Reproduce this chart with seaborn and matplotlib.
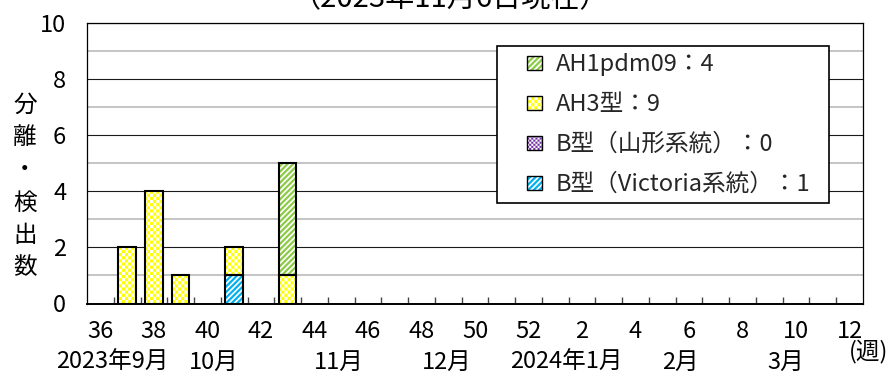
import warnings

import numpy as np
import matplotlib
matplotlib.use("Agg")
import matplotlib.pyplot as plt
import matplotlib.hatch as mhatch
import matplotlib.patches as mpatches
from matplotlib.path import Path
from matplotlib.ticker import MultipleLocator, FixedLocator
from matplotlib.legend_handler import HandlerPatch, HandlerTuple
import seaborn as sns

warnings.filterwarnings("ignore")

# ---------------------------------------------------------------- data
weeks = [36, 37, 38, 39, 40, 41, 42, 43, 44, 45, 46, 47, 48, 49, 50, 51, 52,
         1, 2, 3, 4, 5, 6, 7, 8, 9, 10, 11, 12]
week_labels = [str(w) for w in weeks]

ah1pdm09 = [0, 0, 0, 0, 0, 0, 0, 4, 0, 0, 0, 0, 0, 0, 0, 0, 0,
            0, 0, 0, 0, 0, 0, 0, 0, 0, 0, 0, 0]
ah3 = [0, 2, 4, 1, 0, 1, 0, 1, 0, 0, 0, 0, 0, 0, 0, 0, 0,
       0, 0, 0, 0, 0, 0, 0, 0, 0, 0, 0, 0]
b_yamagata = [0, 0, 0, 0, 0, 0, 0, 0, 0, 0, 0, 0, 0, 0, 0, 0, 0,
              0, 0, 0, 0, 0, 0, 0, 0, 0, 0, 0, 0]
b_victoria = [0, 0, 0, 0, 0, 1, 0, 0, 0, 0, 0, 0, 0, 0, 0, 0, 0,
              0, 0, 0, 0, 0, 0, 0, 0, 0, 0, 0, 0]

series_names = ["AH1pdm09", "AH3型", "B型（山形系統）", "B型（Victoria系統）"]
month_labels = ["2023年9月", "10月", "11月", "12月", "2024年1月", "2月", "3月"]
month_label_x = [0.43, 4.25, 8.92, 12.95, 17.4, 21.66, 25.6]
title_text = "（2023年11月6日現在）"
ylabel_chars = ["分", "離", "・", "検", "出", "数"]
xunit_text = "(週)"


# ------------------------------------------------------- fill patterns
class CheckerHatch(mhatch.HatchPatternBase):
    """Filled checkerboard; every 'c' adds 16 squares per hatch cell side."""

    def __init__(self, hatch, density):
        self.n = hatch.count("c") * 16
        self.num_vertices = (self.n * self.n // 2) * 5

    def set_vertices_and_codes(self, vertices, codes):
        n = self.n
        s = 1.0 / n
        sq = np.array([[0, 0], [s, 0], [s, s], [0, s], [0, 0]], float)
        sq_codes = [Path.MOVETO, Path.LINETO, Path.LINETO, Path.LINETO,
                    Path.CLOSEPOLY]
        k = 0
        for i in range(n):
            for j in range(n):
                if (i + j) % 2 == 0:
                    vertices[k:k + 5] = sq + [i * s, j * s]
                    codes[k:k + 5] = sq_codes
                    k += 5


class StripeHatch(mhatch.HatchPatternBase):
    """Filled bands rising to the right; every 's' adds 9 bands per cell."""

    frac = 0.56

    def __init__(self, hatch, density):
        self.n = hatch.count("s") * 9
        self.num_vertices = (2 * self.n + 2) * 5 if self.n else 0

    def set_vertices_and_codes(self, vertices, codes):
        n = self.n
        d = self.frac / n
        k = 0
        for b in range(-n - 1, n + 1):
            c = b / n
            poly = np.array([[c - 0.1, -0.1], [c + d - 0.1, -0.1],
                             [c + d + 1.1, 1.1], [c + 1.1, 1.1], [0, 0]])
            vertices[k:k + 5] = poly
            codes[k:k + 5] = [Path.MOVETO, Path.LINETO, Path.LINETO,
                              Path.LINETO, Path.CLOSEPOLY]
            k += 5


mhatch._hatch_types.extend([CheckerHatch, StripeHatch])

# ---------------------------------------------------------------- style
sns.set_theme(style="white")
plt.rcParams["font.family"] = ["Noto Sans CJK JP", "DejaVu Sans"]
plt.rcParams["hatch.linewidth"] = 0.0
FS = 17

W, H = 891, 376
fig = plt.figure(figsize=(W / 100, H / 100), dpi=100)
fig.patch.set_facecolor("white")
ax = fig.add_axes([87 / W, 1 - 303.5 / H, 776 / W, 281 / H])

# stacked from the bottom up
layers = [
    (series_names[3], b_victoria, "#00B0F0", "ss"),
    (series_names[2], b_yamagata, "#7030A0", "ccc"),
    (series_names[1], ah3, "#FFFF00", "cc"),
    (series_names[0], ah1pdm09, "#8CCB45", "ss"),
]
style_of = {name: (col, hatch) for name, _, col, hatch in layers}

base = np.zeros(len(weeks))
for name, vals, col, hatch in layers:
    vals = np.asarray(vals, float)
    sns.barplot(x=week_labels, y=vals, order=week_labels, color="white",
                saturation=1, bottom=base.copy(), width=0.65, edgecolor=col,
                hatch=hatch, linewidth=0, errorbar=None, ax=ax, zorder=2)
    sns.barplot(x=week_labels, y=vals, order=week_labels, color="black",
                saturation=1, fill=False, bottom=base.copy(), width=0.65,
                edgecolor="black", linewidth=1.5, errorbar=None, ax=ax,
                zorder=3)
    for p, v in zip(ax.containers[-1], vals):
        if v == 0:
            p.set_visible(False)
    base += vals

# ---------------------------------------------------------------- axes
ax.set_xlim(-0.5, len(weeks) - 0.5)
ax.set_ylim(0, 10)
ax.set_xlabel("")
ax.set_ylabel("")

ax.yaxis.set_major_locator(MultipleLocator(2))
ax.yaxis.set_minor_locator(MultipleLocator(1))
ax.tick_params(axis="y", which="both", length=0, pad=15, labelsize=FS,
               labelcolor="black")
ax.set_axisbelow(True)
ax.grid(axis="y", which="major", color="#1a1a1a", linewidth=0.8)
ax.grid(axis="y", which="minor", color="#bfbfbf", linewidth=1.3)
ax.grid(axis="x", which="both", visible=False)

ax.set_xticks(range(0, len(weeks), 2),
              labels=[week_labels[i] for i in range(0, len(weeks), 2)])
ax.xaxis.set_minor_locator(FixedLocator(np.arange(0.5, len(weeks) - 1, 1)))
ax.tick_params(axis="x", which="major", length=0, pad=12, labelsize=FS,
               labelcolor="black", bottom=True, labelbottom=True)
ax.tick_params(axis="x", which="minor", direction="in", length=5, width=1,
               color="#444444", bottom=True)

for side, lw in (("left", 0.9), ("right", 0.9), ("top", 0.9), ("bottom", 1.4)):
    ax.spines[side].set_visible(True)
    ax.spines[side].set_color("black")
    ax.spines[side].set_linewidth(lw)

# month row under the week numbers
for lab, xpos in zip(month_labels, month_label_x):
    ax.text(xpos, -(362 - 303.5) / 281, lab, transform=ax.get_xaxis_transform(),
            ha="center", va="center", fontsize=FS, color="black")

fig.text(869 / W, 1 - 351 / H, xunit_text, ha="center", va="center",
         fontsize=FS, color="black")

# vertical axis title, one character per line
for ch, ypix in zip(ylabel_chars, [105, 138, 170, 203, 235, 268]):
    fig.text(25 / W, 1 - ypix / H, ch, ha="center", va="center",
             fontsize=FS, color="black")

fig.text(450 / W, 1 - 7 / H, title_text, ha="center", va="baseline",
         fontsize=21, color="black")

# ---------------------------------------------------------------- legend
totals = [sum(ah1pdm09), sum(ah3), sum(b_yamagata), sum(b_victoria)]
handles, labels = [], []
for name, tot in zip(series_names, totals):
    col, hatch = style_of[name]
    fillp = mpatches.Patch(facecolor="white", edgecolor=col, hatch=hatch,
                           linewidth=0)
    edgep = mpatches.Patch(facecolor="none", edgecolor="black", linewidth=1.0)
    handles.append((fillp, edgep))
    labels.append(f"{name}：{tot}")


def square_patch(legend, orig_handle, xdescent, ydescent, width, height,
                 fontsize):
    side = 0.62 * fontsize
    return mpatches.Rectangle((width - xdescent - side,
                               (height - side) / 2 - ydescent), side, side)


leg = ax.legend(
    handles, labels,
    handler_map={tuple: HandlerTuple(ndivide=1, pad=0),
                 mpatches.Patch: HandlerPatch(patch_func=square_patch)},
    loc="upper left", mode="expand",
    bbox_to_anchor=(497 / W, 1 - 201 / H, (829 - 497) / W, (201 - 46) / H),
    bbox_transform=fig.transFigure, borderaxespad=0, borderpad=0.3,
    handlelength=1.6, handleheight=0.7, handletextpad=0.6,
    labelspacing=0.72, fontsize=FS, frameon=True, fancybox=False,
    framealpha=1, edgecolor="black", facecolor="white",
)
leg.get_frame().set_linewidth(1.2)
leg.set_zorder(5)

fig.savefig("out.png", dpi=100, facecolor="white")
